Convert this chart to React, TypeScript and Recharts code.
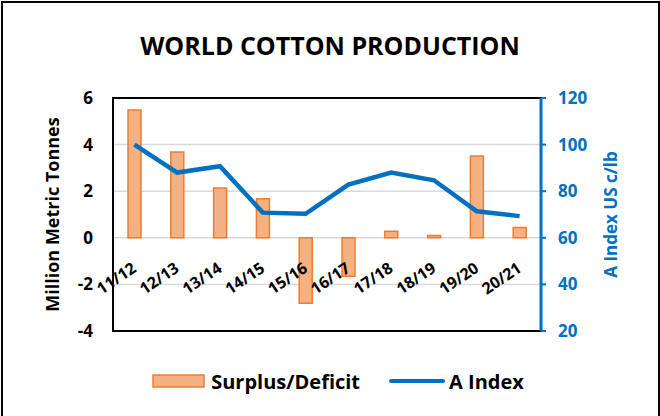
import {
  Bar,
  CartesianGrid,
  ComposedChart,
  Legend,
  Line,
  ReferenceArea,
  XAxis,
  YAxis,
} from "recharts";

const seasons = ["11/12", "12/13", "13/14", "14/15", "15/16", "16/17", "17/18", "18/19", "19/20", "20/21"];
const surplus = [5.48, 3.68, 2.14, 1.68, -2.81, -1.65, 0.28, 0.1, 3.51, 0.44];
const aIndex = [100, 88, 90.7, 70.8, 70.3, 82.8, 88, 84.7, 71.4, 69.3];
const leftTicks = [-4, -2, 0, 2, 4, 6];
const rightTicks = [20, 40, 60, 80, 100, 120];

const data = seasons.map((season, i) => ({
  season,
  surplus: surplus[i],
  aIndex: aIndex[i],
}));

const FONT = "'Open Sans', sans-serif";
const BLUE = "#0070C0";
const ORANGE = "#ED7D31";
const ORANGE_FILL = "#F4B183";

// plot is 233px tall, domain -4..6 so zero sits 40% up from the bottom
const ZERO_OFFSET = 233 * 0.4;

const renderSeasonTick = (props: any) => {
  const { x, y, payload } = props;
  return (
    <text
      transform={`translate(${x + 3},${y - ZERO_OFFSET + 33}) rotate(-34)`}
      textAnchor="end"
      fontFamily={FONT}
      fontWeight={700}
      fontSize={16}
      fill="#000"
    >
      {payload.value}
    </text>
  );
};

const LegendContent = () => (
  <div
    style={{
      display: "flex",
      justifyContent: "center",
      alignItems: "center",
      height: 20,
      fontFamily: FONT,
      fontWeight: 700,
      fontSize: 20,
      color: "#000",
      paddingLeft: 16,
    }}
  >
    <svg width={53} height={14} style={{ marginRight: 6 }}>
      <rect x={1} y={1} width={51} height={12} fill={ORANGE_FILL} stroke={ORANGE} strokeWidth={1.5} />
    </svg>
    <span>Surplus/Deficit</span>
    <svg width={56} height={14} style={{ marginLeft: 29, marginRight: 4 }}>
      <line x1={2} y1={7} x2={54} y2={7} stroke={BLUE} strokeWidth={4} strokeLinecap="round" />
    </svg>
    <span>A Index</span>
  </div>
);

export default function App() {
  return (
    <div style={{ position: "absolute", left: 0, top: 0, width: 660, height: 416, background: "#fff" }}>
      <div
        style={{
          position: "absolute",
          left: 0,
          top: 28,
          width: 660,
          textAlign: "center",
          fontFamily: FONT,
          fontWeight: 700,
          fontSize: 25,
          color: "#000",
        }}
      >
        WORLD COTTON PRODUCTION
      </div>
      <ComposedChart
        width={660}
        height={416}
        data={data}
        margin={{ top: 98, right: 30, left: 53, bottom: 35 }}
      >
        <CartesianGrid vertical={false} stroke="#d9d9d9" strokeWidth={1.5} yAxisId="left" />
        <XAxis
          dataKey="season"
          height={30}
          tickLine={false}
          tickSize={0}
          tickMargin={0}
          interval={0}
          axisLine={{ stroke: "#000", strokeWidth: 2 }}
          tick={renderSeasonTick}
        />
        <YAxis
          yAxisId="left"
          domain={[-4, 6]}
          ticks={leftTicks}
          width={60}
          tickLine={false}
          tickMargin={14}
          axisLine={{ stroke: "#000", strokeWidth: 2 }}
          tick={{ fill: "#000", fontFamily: FONT, fontWeight: 700, fontSize: 17 }}
          label={{
            value: "Million Metric Tonnes",
            angle: -90,
            position: "center",
            dx: -30,
            style: { fill: "#000", fontFamily: FONT, fontWeight: 700, fontSize: 18, textAnchor: "middle" },
          }}
        />
        <YAxis
          yAxisId="right"
          orientation="right"
          domain={[20, 120]}
          ticks={rightTicks}
          width={89}
          tickSize={5}
          tickMargin={12}
          tickLine={{ stroke: BLUE, strokeWidth: 2 }}
          axisLine={{ stroke: BLUE, strokeWidth: 3 }}
          tick={{ fill: BLUE, fontFamily: FONT, fontWeight: 700, fontSize: 17 }}
          label={{
            value: "A Index US c/lb",
            angle: -90,
            position: "center",
            dx: 25,
            style: { fill: BLUE, fontFamily: FONT, fontWeight: 700, fontSize: 17, textAnchor: "middle" },
          }}
        />
        <ReferenceArea
          yAxisId="left"
          y1={-4}
          y2={6}
          fill="none"
          fillOpacity={0}
          stroke="#000"
          strokeWidth={2}
          ifOverflow="visible"
        />
        <Legend
          verticalAlign="bottom"
          content={<LegendContent />}
          wrapperStyle={{ top: 371, bottom: "auto", left: 0, width: 660 }}
        />
        <Bar
          dataKey="surplus"
          name="Surplus/Deficit"
          yAxisId="left"
          fill={ORANGE_FILL}
          stroke={ORANGE}
          strokeWidth={1.5}
          barSize={13}
          isAnimationActive={false}
        />
        <Line
          dataKey="aIndex"
          name="A Index"
          yAxisId="right"
          type="linear"
          stroke={BLUE}
          strokeWidth={4.5}
          dot={false}
          isAnimationActive={false}
        />
      </ComposedChart>
      <div
        style={{
          position: "absolute",
          left: 1,
          top: 1,
          width: 655,
          height: 420,
          border: "2px solid #000",
          pointerEvents: "none",
        }}
      />
    </div>
  );
}
